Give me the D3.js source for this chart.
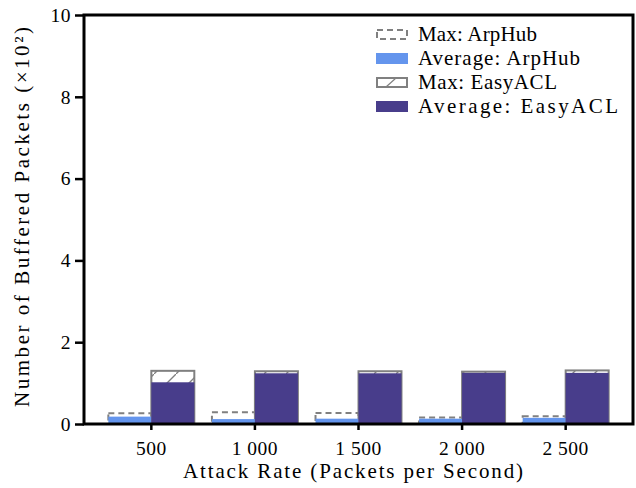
<!DOCTYPE html>
<html>
<head>
<meta charset="utf-8">
<script src="https://cdn.jsdelivr.net/npm/d3@7/dist/d3.min.js"></script>
<style>
  body { margin: 0; background: #fff; }
  svg text { font-family: "Liberation Serif", "DejaVu Serif", serif; fill: #000; }
</style>
</head>
<body>
<svg id="chart" width="636" height="488"></svg>
<script>
const categories = ["500", "1 000", "1 500", "2 000", "2 500"];
const arpHubAvg = [0.18, 0.12, 0.13, 0.13, 0.15];
const arpHubMax = [0.26, 0.29, 0.27, 0.16, 0.19];
const easyAclAvg = [1.02, 1.24, 1.24, 1.25, 1.25];
const easyAclMax = [1.30, 1.29, 1.29, 1.28, 1.31];
const yTicks = [0, 2, 4, 6, 8, 10];
const legendLabels = ["Max: ArpHub", "Average: ArpHub", "Max: EasyACL", "Average: EasyACL"];
const legendWidths = [119, 162, 139, 200];

const colArpAvg = "#6495ed";
const colEasyAvg = "#483d8b";
const colGray = "#808080";

const svg = d3.select("#chart");
const m = { left: 84, right: 3, top: 15, bottom: 64 };
const W = 636, H = 488;
const x0 = m.left, x1 = W - m.right, y0 = H - m.bottom, y1 = m.top;

const defs = svg.append("defs");
const pat = defs.append("pattern").attr("id", "hatch").attr("patternUnits", "userSpaceOnUse")
  .attr("width", 22).attr("height", 22);
pat.append("rect").attr("width", 22).attr("height", 22).attr("fill", "#fff");
pat.append("path").attr("d", "M-2,24 L24,-2").attr("stroke", colGray).attr("stroke-width", 1.3);

const x = d3.scaleBand().domain(categories).range([x0, x1]).paddingInner(0.17).paddingOuter(0.15 + 0.17 / 2);
const sub = d3.scaleBand().domain(["arp", "easy"]).range([0, x.bandwidth()]);
const y = d3.scaleLinear().domain([0, 10]).range([y0, y1]);

const g = svg.append("g");

categories.forEach((c, i) => {
  const bx = x(c);
  g.append("rect").attr("x", bx + sub("arp")).attr("width", sub.bandwidth())
    .attr("y", y(arpHubMax[i])).attr("height", y(0) - y(arpHubMax[i]))
    .attr("fill", "#fff").attr("stroke", colGray).attr("stroke-width", 2).attr("stroke-dasharray", "6,4");
  g.append("rect").attr("x", bx + sub("easy")).attr("width", sub.bandwidth())
    .attr("y", y(easyAclMax[i])).attr("height", y(0) - y(easyAclMax[i]))
    .attr("fill", "url(#hatch)").attr("stroke", colGray).attr("stroke-width", 2);
  g.append("rect").attr("x", bx + sub("arp")).attr("width", sub.bandwidth())
    .attr("y", y(arpHubAvg[i])).attr("height", y(0) - y(arpHubAvg[i]))
    .attr("fill", colArpAvg);
  g.append("rect").attr("x", bx + sub("easy")).attr("width", sub.bandwidth())
    .attr("y", y(easyAclAvg[i])).attr("height", y(0) - y(easyAclAvg[i]))
    .attr("fill", colEasyAvg);
});

const tickFont = 19.5;
const bigFont = 21;
const xAxis = svg.append("g").attr("transform", `translate(0,${y0})`)
  .call(d3.axisBottom(x).tickSize(6).tickSizeOuter(0));
xAxis.select(".domain").remove();
xAxis.selectAll("line").attr("stroke", "#000").attr("stroke-width", 2.5);
xAxis.selectAll("text").attr("font-size", tickFont).attr("dy", "1.15em")
  .attr("font-family", "Liberation Serif").attr("letter-spacing", "0.5");

const yAxis = svg.append("g").attr("transform", `translate(${x0},0)`)
  .call(d3.axisLeft(y).tickValues(yTicks).tickSize(9).tickSizeOuter(0));
yAxis.select(".domain").remove();
yAxis.selectAll("line").attr("stroke", "#000").attr("stroke-width", 2.5);
yAxis.selectAll("text").attr("font-size", tickFont).attr("x", -13)
  .attr("font-family", "Liberation Serif").attr("letter-spacing", "0.5");

svg.append("rect").attr("x", x0).attr("y", y1).attr("width", x1 - x0).attr("height", y0 - y1)
  .attr("fill", "none").attr("stroke", "#000").attr("stroke-width", 3);

svg.append("text").attr("x", 353).attr("y", 478).attr("text-anchor", "middle")
  .attr("font-size", bigFont).attr("textLength", 340).attr("lengthAdjust", "spacing")
  .text("Attack Rate (Packets per Second)");
svg.append("text").attr("transform", `translate(29,217) rotate(-90)`).attr("text-anchor", "middle")
  .attr("font-size", bigFont).attr("textLength", 380).attr("lengthAdjust", "spacing")
  .text("Number of Buffered Packets (×10²)");

const lg = svg.append("g").attr("transform", "translate(376,29)");
legendLabels.forEach((lab, i) => {
  const row = lg.append("g").attr("transform", `translate(0,${i * 24})`);
  if (i === 0) {
    row.append("rect").attr("x", 1).attr("y", 1).attr("width", 30).attr("height", 9)
      .attr("fill", "#fff").attr("stroke", colGray).attr("stroke-width", 2).attr("stroke-dasharray", "6,4");
  } else if (i === 1) {
    row.append("rect").attr("x", 0).attr("y", 0).attr("width", 32).attr("height", 11).attr("fill", colArpAvg);
  } else if (i === 2) {
    row.append("rect").attr("x", 1).attr("y", 1).attr("width", 30).attr("height", 9)
      .attr("fill", "#fff").attr("stroke", colGray).attr("stroke-width", 2);
    row.append("path").attr("d", "M10,10 L20,1").attr("stroke", colGray).attr("stroke-width", 1.2);
  } else {
    row.append("rect").attr("x", 0).attr("y", 0).attr("width", 32).attr("height", 11).attr("fill", colEasyAvg);
  }
  row.append("text").attr("x", 42).attr("y", 11.5).attr("font-size", bigFont)
    .attr("textLength", legendWidths[i]).attr("lengthAdjust", "spacing").text(lab);
});
</script>
</body>
</html>
